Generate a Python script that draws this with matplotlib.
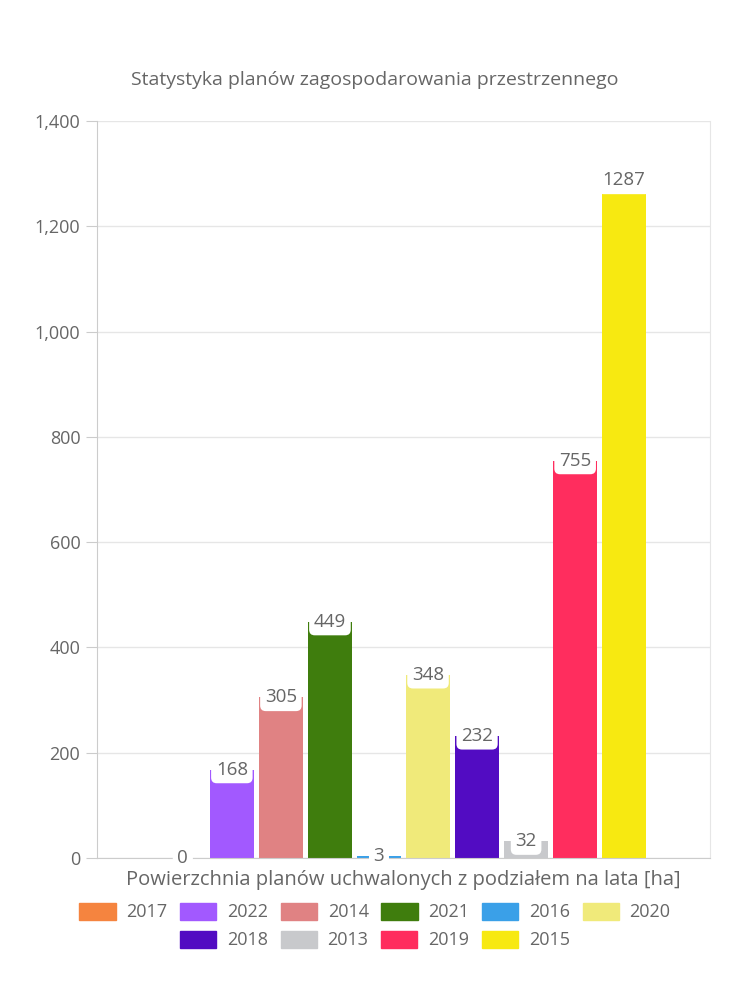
import numpy as np
import matplotlib
matplotlib.use("Agg")
import matplotlib.pyplot as plt
from matplotlib.patches import Patch

# series: one bar per year, all in one category group
years = ["2017", "2022", "2014", "2021", "2016", "2020", "2018", "2013", "2019", "2015"]
values = [0, 168, 305, 449, 3, 348, 232, 32, 755, 1287]
colors = ["#F5843F", "#A259FF", "#E08283", "#3F7D0D", "#3AA0E8",
          "#F0EA7A", "#520CC2", "#C8C9CC", "#FF2D5E", "#F7E911"]
yticks = [0, 200, 400, 600, 800, 1000, 1200, 1400]

title = "Statystyka planów zagospodarowania przestrzennego"
xlabel = "Powierzchnia planów uchwalonych z podziałem na lata [ha]"

plt.rcParams['font.family'] = ['Open Sans', 'DejaVu Sans']
txt = "#666666"
grid = "#e6e6e6"

fig = plt.figure(figsize=(7.5, 10), dpi=100)
ax = fig.add_axes([97 / 750, 142 / 1000, 613 / 750, 737 / 1000])

n = len(values)
slot = 0.8 / n
xs = -0.4 + slot * (np.arange(n) + 0.5)
ax.bar(xs, values, width=slot * 0.9, color=colors, zorder=2)

# value labels with white box at the bar top
for x, v in zip(xs, values):
    ax.text(x, v, str(v), ha="center", va="center", fontsize=13.5, color=txt, zorder=4,
            bbox=dict(boxstyle="round,pad=0.25,rounding_size=0.3", fc="white", ec="none"))

ax.set_xlim(-0.5, 0.5)
ax.set_ylim(0, 1400)
ax.set_yticks(yticks)
ax.set_yticklabels([f"{t:,}" for t in yticks])
ax.set_xticks([])
ax.tick_params(axis="y", length=8, color="#cccccc", labelsize=13, labelcolor=txt, pad=4)
ax.yaxis.grid(True, color=grid, lw=1, zorder=0)
ax.set_axisbelow(True)
for s in ["left", "bottom"]:
    ax.spines[s].set_color("#cccccc")
ax.spines["right"].set_color(grid)
ax.spines["top"].set_visible(False)

ax.set_xlabel(xlabel, fontsize=14.5, color=txt, labelpad=9)
fig.text(0.5, 0.92, title, ha="center", va="center", fontsize=14, color=txt)

# legend in two centered rows
handles = [Patch(color=c, label=y) for c, y in zip(colors, years)]
kw = dict(frameon=False, fontsize=13, labelcolor=txt, handlelength=2.0, handleheight=1.1,
          handletextpad=0.6, columnspacing=0.7)
fig.legend(handles=handles[:6], ncol=6, loc="center", bbox_to_anchor=(0.5, 0.088), **kw)
fig.legend(handles=handles[6:], ncol=4, loc="center", bbox_to_anchor=(0.5, 0.06), **kw)

fig.savefig("out.png", dpi=100, facecolor="white")
